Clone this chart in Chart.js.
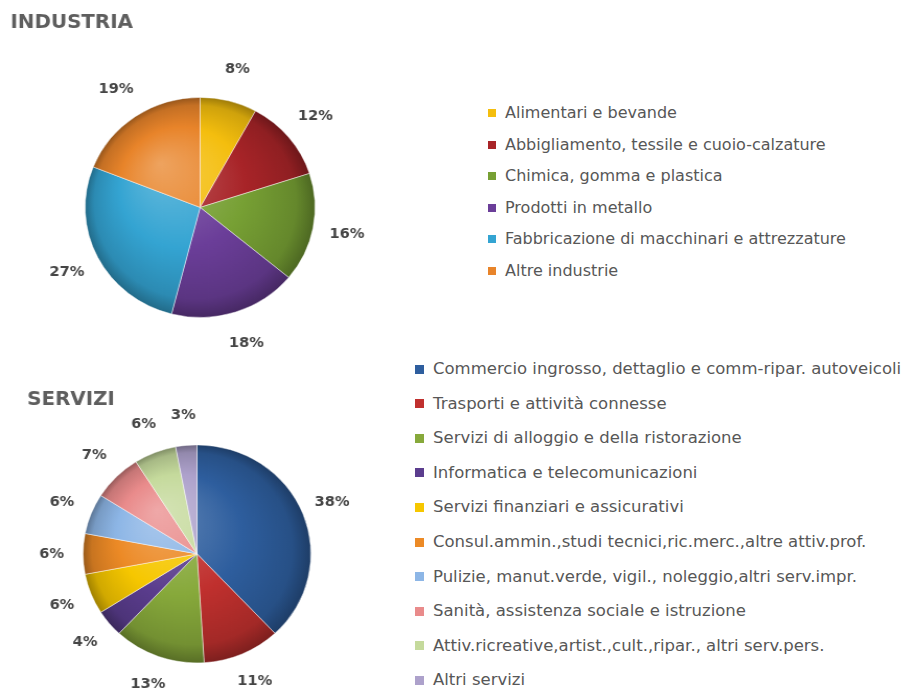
<!DOCTYPE html>
<html>
<head>
<meta charset="utf-8">
<script src="https://cdn.jsdelivr.net/npm/chart.js@4.4.1/dist/chart.umd.min.js"></script>
<style>
  body { margin: 0; background: #fff; width: 906px; height: 690px; overflow: hidden; position: relative; font-family: 'DejaVu Sans', sans-serif; }
  canvas { position: absolute; left: 0; transform: scaleX(1.045); transform-origin: 0 0; }
  #industriaChart { top: 0; }
  #serviziChart { top: 377px; }
  .legend { position: absolute; left: 0; top: 0; margin: 0; padding: 0; list-style: none; color: #575757; font-size: 16px; }
  #serviziLegend { font-size: 16.5px; }
  .legend li { position: absolute; white-space: nowrap; height: 20px; line-height: 20px; }
  .legend li i { position: absolute; top: 50%; }
</style>
</head>
<body>
<canvas id="industriaChart" width="373" height="370"></canvas>
<canvas id="serviziChart" width="351" height="313"></canvas>
<ul class="legend" id="industriaLegend"></ul>
<ul class="legend" id="serviziLegend"></ul>
<script>
const industriaLabels = [
  'Alimentari e bevande',
  'Abbigliamento, tessile e cuoio-calzature',
  'Chimica, gomma e plastica',
  'Prodotti in metallo',
  'Fabbricazione di macchinari e attrezzature',
  'Altre industrie'
];
const industriaValues = [8, 12, 16, 18, 27, 19];
const industriaColors = ['#F4BE0E', '#A82428', '#77A034', '#6B3E99', '#34A4D2', '#E8842A'];

const serviziLabels = [
  'Commercio ingrosso, dettaglio e comm-ripar. autoveicoli',
  'Trasporti e attività connesse',
  'Servizi di alloggio e della ristorazione',
  'Informatica e telecomunicazioni',
  'Servizi finanziari e assicurativi',
  'Consul.ammin.,studi tecnici,ric.merc.,altre attiv.prof.',
  'Pulizie, manut.verde, vigil., noleggio,altri serv.impr.',
  'Sanità, assistenza sociale e istruzione',
  'Attiv.ricreative,artist.,cult.,ripar., altri serv.pers.',
  'Altri servizi'
];
const serviziValues = [38, 11, 13, 4, 6, 6, 6, 7, 6, 3];
const serviziColors = ['#2E5E9E', '#C0302E', '#87A93B', '#5B3D8E', '#F6C700', '#EC8A26',
  '#8DB6E6', '#E98B8B', '#C5DA9C', '#ADA1CB'];

// mix a hex colour towards white (amt > 0) or black (amt < 0)
function shade(hex, amt) {
  const n = parseInt(hex.slice(1), 16);
  const t = amt < 0 ? 0 : 255, p = Math.abs(amt);
  const c = [n >> 16, (n >> 8) & 255, n & 255].map(v => Math.round(v + (t - v) * p));
  return 'rgb(' + c.join(',') + ')';
}

// glossy look: light from the upper left, darker towards the rim
function sliceFill(colors) {
  return (ctx) => {
    const base = colors[ctx.dataIndex];
    const area = ctx.chart.chartArea;
    if (!area) return base;
    const r = ctx.dataset.radius;
    const cx = (area.left + area.right) / 2, cy = (area.top + area.bottom) / 2;
    const g = ctx.chart.ctx.createRadialGradient(cx - r * 0.35, cy - r * 0.4, 0, cx, cy, r);
    g.addColorStop(0, shade(base, 0.25));
    g.addColorStop(0.55, base);
    g.addColorStop(0.88, shade(base, -0.15));
    g.addColorStop(1, shade(base, -0.35));
    return g;
  };
}

const percentLabels = {
  id: 'percentLabels',
  afterDatasetsDraw(chart, args, opts) {
    const ctx = chart.ctx;
    const meta = chart.getDatasetMeta(0);
    const values = chart.data.datasets[0].data;
    ctx.save();
    ctx.font = 'bold 14px "DejaVu Sans"';
    ctx.fillStyle = '#454545';
    ctx.textAlign = 'center';
    ctx.textBaseline = 'middle';
    meta.data.forEach((arc, i) => {
      const p = arc.getProps(['x', 'y', 'startAngle', 'endAngle', 'outerRadius'], true);
      const mid = (p.startAngle + p.endAngle) / 2;
      const d = p.outerRadius + opts.offset;
      ctx.fillText(values[i] + '%', p.x + Math.cos(mid) * d, p.y + Math.sin(mid) * d);
    });
    ctx.restore();
  }
};

function makePie(id, title, labels, values, colors, radius, pad, offset) {
  return new Chart(document.getElementById(id), {
    type: 'pie',
    data: {
      labels: labels,
      datasets: [{
        data: values,
        radius: radius,
        backgroundColor: sliceFill(colors),
        borderColor: 'rgba(255,255,255,0.45)',
        borderWidth: 1
      }]
    },
    options: {
      responsive: false,
      animation: false,
      layout: { padding: pad },
      plugins: {
        title: {
          display: true,
          text: title,
          align: 'start',
          color: '#5e5e5e',
          font: { family: 'DejaVu Sans', size: 19, weight: 'bold' },
          padding: { top: 12, bottom: 10 }
        },
        legend: { display: false },
        tooltip: { enabled: false },
        percentLabels: { offset: offset }
      }
    },
    plugins: [percentLabels]
  });
}

// legend list built from the chart's own legend items
function htmlLegend(chart, listId, colors, left, top, pitch, box, gap) {
  const list = document.getElementById(listId);
  const items = chart.options.plugins.legend.labels.generateLabels(chart);
  items.forEach((item, i) => {
    const li = document.createElement('li');
    li.style.left = (left + box + gap) + 'px';
    li.style.top = (top + i * pitch - 10) + 'px';
    const sw = document.createElement('i');
    sw.style.left = -(box + gap) + 'px';
    sw.style.width = box + 'px';
    sw.style.height = box + 'px';
    sw.style.marginTop = -(box / 2) + 'px';
    sw.style.background = colors[item.index];
    li.appendChild(sw);
    li.appendChild(document.createTextNode(item.text));
    list.appendChild(li);
  });
}

const industria = makePie('industriaChart', 'INDUSTRIA', industriaLabels, industriaValues, industriaColors,
  110, { left: 10, right: 0, top: 0, bottom: 0 }, 33);
const servizi = makePie('serviziChart', 'SERVIZI', serviziLabels, serviziValues, serviziColors,
  109, { left: 26, right: 0, top: 0, bottom: 4 }, 30);

htmlLegend(industria, 'industriaLegend', industriaColors, 488, 113, 31.6, 8, 9);
htmlLegend(servizi, 'serviziLegend', serviziColors, 415, 369, 34.6, 9, 9);
</script>
</body>
</html>
